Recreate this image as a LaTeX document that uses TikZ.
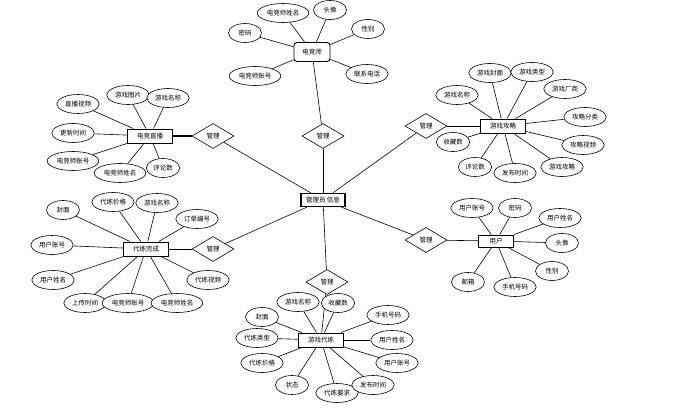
\documentclass[tikz,border=0pt]{standalone}
\usepackage{fontspec}
\setmainfont{Noto Sans CJK SC}
\usetikzlibrary{shapes.geometric}
\tikzset{
  attr/.style={ellipse, draw, line width=0.6pt, fill=white, font=\fontsize{6.5}{7}\selectfont,
    inner xsep=2pt, inner ysep=0pt, minimum height=19pt, minimum width=33pt},
  ent/.style={rectangle, draw, line width=0.9pt, fill=white, font=\fontsize{6.5}{7}\selectfont,
    minimum width=45pt, minimum height=14pt, inner sep=1pt},
  rel/.style={diamond, draw, line width=0.6pt, fill=white, aspect=1.7, font=\fontsize{6.5}{7}\selectfont,
    minimum width=42pt, minimum height=25pt, inner sep=0pt},
  ln/.style={line width=0.6pt}
}
\begin{document}
\begin{tikzpicture}[x=1pt,y=-1pt]
\useasboundingbox (0,0) rectangle (684,412);

% centre
\node[ent, line width=1.2pt, minimum width=44pt, minimum height=13pt] (c) at (323,200) {管理员 信息};

% relations
\node[rel] (r1) at (323,136) {管理};
\node[rel] (r2) at (213,136) {管理};
\node[rel] (r3) at (426,126) {管理};
\node[rel] (r4) at (213,249) {管理};
\node[rel] (r5) at (426,240) {管理};
\node[rel] (r6) at (327,282) {管理};

% entities
\node[ent, rounded corners=3pt, minimum width=36pt, minimum height=19pt] (e1) at (312,52) {电竞师};
\node[ent] (e2) at (150,136) {电竞直播};
\node[ent] (e3) at (503,126) {游戏攻略};
\node[ent] (e4) at (146,249) {代练完成};
\node[ent, minimum width=35pt, minimum height=12pt] (e5) at (496,241) {用户};
\node[ent] (e6) at (321,340) {游戏代练};

% relation links
\draw[ln] (e1) -- (r1);
\draw[ln] (r1) -- (c);
\draw[line width=1.1pt] (e2) -- (r2);
\draw[ln] (r2) -- (c);
\draw[ln] (e3) -- (r3);
\draw[ln] (r3) -- (c);
\draw[ln] (e4) -- (r4);
\draw[ln] (r4) -- (c);
\draw[ln] (e5) -- (r5);
\draw[ln] (r5) -- (c);
\draw[ln] (e6) -- (r6);
\draw[ln] (r6) -- (c);

% 电竞师 attributes
\node[attr] (a11) at (283,13) {电竞师姓名};
\node[attr] (a12) at (330,10) {头像};
\node[attr] (a13) at (245,33) {密码};
\node[attr] (a14) at (368,29) {性别};
\node[attr] (a15) at (255,76) {电竞师账号};
\node[attr] (a16) at (367,74) {联系电话};
\foreach \n in {a11,a12,a13,a14,a15,a16} \draw[ln] (\n) -- (e1);

% 电竞直播 attributes
\node[attr] (a21) at (78,104) {直播视频};
\node[attr] (a22) at (128,95) {游戏图片};
\node[attr] (a23) at (168,98) {游戏名称};
\node[attr] (a24) at (73,133) {更新时间};
\node[attr] (a25) at (73,161) {电竞师账号};
\node[attr] (a26) at (120,173) {电竞师姓名};
\node[attr] (a27) at (163,168) {评论数};
\foreach \n in {a21,a22,a23,a24,a25,a26,a27} \draw[ln] (\n) -- (e2);

% 游戏攻略 attributes
\node[attr] (a31) at (490,73) {游戏封面};
\node[attr] (a32) at (532,72) {游戏类型};
\node[attr] (a33) at (565,89) {游戏厂商};
\node[attr] (a34) at (457,95) {游戏名称};
\node[attr] (a35) at (585,117) {攻略分类};
\node[attr] (a36) at (583,145) {攻略视频};
\node[attr] (a37) at (453,142) {收藏数};
\node[attr] (a38) at (475,167) {评论数};
\node[attr] (a39) at (515,173) {发布时间};
\node[attr] (a310) at (562,167) {游戏攻略};
\foreach \n in {a31,a32,a33,a34,a35,a36,a37,a38,a39,a310} \draw[ln] (\n) -- (e3);

% 代练完成 attributes
\node[attr] (a41) at (63,210) {封面};
\node[attr] (a42) at (113,202) {代练价格};
\node[attr] (a43) at (157,203) {游戏名称};
\node[attr] (a44) at (197,219) {订单编号};
\node[attr] (a45) at (52,245) {用户账号};
\node[attr] (a46) at (53,280) {用户姓名};
\node[attr] (a47) at (208,280) {代练视频};
\node[attr] (a48) at (85,303) {上传时间};
\node[attr] (a49) at (128,303) {电竞师账号};
\node[attr] (a410) at (177,303) {电竞师姓名};
\foreach \n in {a41,a42,a43,a44,a45,a46,a47,a48,a49,a410} \draw[ln] (\n) -- (e4);

% 用户 attributes
\node[attr] (a51) at (472,208) {用户账号};
\node[attr] (a52) at (515,208) {密码};
\node[attr] (a53) at (560,218) {用户姓名};
\node[attr] (a54) at (562,243) {头像};
\node[attr] (a55) at (552,271) {性别};
\node[attr] (a56) at (468,282) {邮箱};
\node[attr] (a57) at (515,287) {手机号码};
\foreach \n in {a51,a52,a53,a54,a55,a56,a57} \draw[ln] (\n) -- (e5);

% 游戏代练 attributes
\node[attr] (a61) at (298,302) {游戏名称};
\node[attr] (a62) at (338,303) {收藏数};
\node[attr] (a63) at (262,317) {封面};
\node[attr] (a64) at (388,315) {手机号码};
\node[attr] (a65) at (257,338) {代练类型};
\node[attr] (a66) at (392,340) {用户姓名};
\node[attr] (a67) at (262,363) {代练价格};
\node[attr] (a68) at (397,363) {用户账号};
\node[attr] (a69) at (292,385) {状态};
\node[attr] (a610) at (337,393) {代练要求};
\node[attr] (a611) at (373,385) {发布时间};
\foreach \n in {a61,a62,a63,a64,a65,a66,a67,a68,a69,a610,a611} \draw[ln] (\n) -- (e6);
\end{tikzpicture}
\end{document}
